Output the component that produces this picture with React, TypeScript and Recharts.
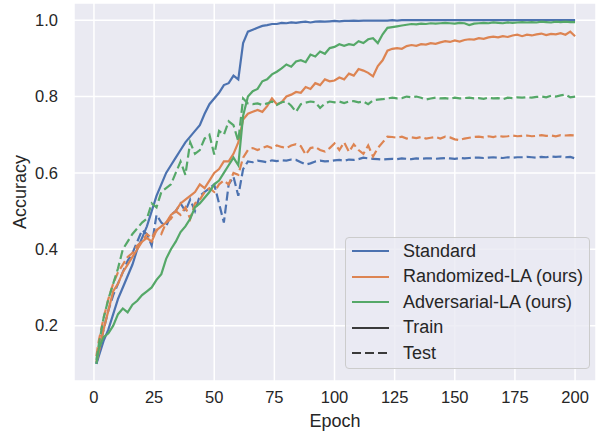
import React from "react";
import { LineChart, Line, XAxis, YAxis, CartesianGrid } from "recharts";

const epochs = [
  1, 2, 4, 6, 8, 10, 12, 14, 16, 18,
  20, 22, 24, 26, 28, 30, 32, 34, 36, 38,
  40, 42, 44, 46, 48, 50, 52, 54, 56, 58,
  60, 62, 64, 66, 68, 70, 72, 74, 76, 78,
  80, 82, 84, 86, 88, 90, 92, 94, 96, 98,
  100, 102, 104, 106, 108, 110, 112, 114, 116, 118,
  120, 122, 124, 126, 128, 130, 132, 134, 136, 138,
  140, 142, 144, 146, 148, 150, 152, 154, 156, 158,
  160, 162, 164, 166, 168, 170, 172, 174, 176, 178,
  180, 182, 184, 186, 188, 190, 192, 194, 196, 198,
  200,
];

const standardTrain = [
  0.10, 0.12, 0.16, 0.19, 0.23, 0.27, 0.30, 0.33, 0.36, 0.40,
  0.43, 0.46, 0.50, 0.54, 0.57, 0.60, 0.62, 0.64, 0.66, 0.68,
  0.695, 0.71, 0.725, 0.755, 0.78, 0.795, 0.81, 0.83, 0.835, 0.855,
  0.845, 0.94, 0.97, 0.975, 0.98, 0.985, 0.987, 0.99, 0.99, 0.993,
  0.992, 0.994, 0.993, 0.995, 0.996, 0.994, 0.996, 0.997, 0.996, 0.997,
  0.998, 0.997, 0.998, 0.998, 0.999, 0.998, 0.999, 0.999, 0.999, 0.999,
  0.999, 0.999, 1.0, 0.999, 1.0, 1.0, 1.0, 1.0, 1.0, 1.0,
  1.0, 1.0, 1.0, 1.0, 1.0, 1.0, 1.0, 1.0, 1.0, 1.0,
  1.0, 1.0, 1.0, 1.0, 1.0, 1.0, 1.0, 1.0, 1.0, 1.0,
  1.0, 1.0, 1.0, 1.0, 1.0, 1.0, 1.0, 1.0, 1.0, 1.0,
  1.0,
];

const standardTest = [
  0.10, 0.13, 0.19, 0.24, 0.28, 0.31, 0.34, 0.37, 0.39, 0.42,
  0.45, 0.44, 0.41, 0.49, 0.47, 0.46, 0.49, 0.50, 0.52, 0.50,
  0.53, 0.50, 0.54, 0.55, 0.56, 0.57, 0.52, 0.47, 0.57, 0.59,
  0.54, 0.61, 0.63, 0.628, 0.632, 0.63, 0.628, 0.633, 0.631, 0.633,
  0.632, 0.635, 0.634, 0.628, 0.622, 0.625, 0.63, 0.632, 0.63, 0.631,
  0.633, 0.634, 0.632, 0.635, 0.634, 0.636, 0.64, 0.638, 0.637, 0.636,
  0.635, 0.636, 0.637, 0.636, 0.638, 0.637, 0.636, 0.638, 0.637, 0.638,
  0.638, 0.637, 0.638, 0.639, 0.638, 0.637, 0.639, 0.638, 0.639, 0.64,
  0.64, 0.639, 0.64, 0.641, 0.64, 0.639, 0.641, 0.64, 0.641, 0.641,
  0.642, 0.641, 0.64, 0.642, 0.641, 0.643, 0.642, 0.643, 0.641, 0.642,
  0.638,
];

const randomizedTrain = [
  0.105, 0.13, 0.19, 0.24, 0.29, 0.31, 0.34, 0.36, 0.38, 0.40,
  0.42, 0.43, 0.42, 0.45, 0.46, 0.47, 0.49, 0.50, 0.52, 0.53,
  0.54, 0.55, 0.57, 0.56, 0.58, 0.60, 0.61, 0.63, 0.63, 0.65,
  0.68, 0.74, 0.755, 0.76, 0.765, 0.76, 0.775, 0.795, 0.78, 0.785,
  0.80, 0.805, 0.812, 0.81, 0.825, 0.82, 0.835, 0.83, 0.845, 0.84,
  0.842, 0.85, 0.845, 0.86, 0.855, 0.872, 0.868, 0.862, 0.853, 0.88,
  0.895, 0.92, 0.925, 0.927, 0.925, 0.932, 0.935, 0.933, 0.937, 0.936,
  0.94, 0.938, 0.942, 0.945, 0.943, 0.947, 0.944, 0.948, 0.95, 0.949,
  0.953, 0.951, 0.955, 0.957, 0.955, 0.958, 0.956, 0.96, 0.962, 0.958,
  0.962, 0.96, 0.963, 0.965, 0.961, 0.964, 0.963, 0.966, 0.962, 0.97,
  0.958,
];

const randomizedTest = [
  0.12, 0.16, 0.22, 0.27, 0.31, 0.34, 0.36, 0.38, 0.39, 0.41,
  0.42, 0.44, 0.43, 0.45, 0.44, 0.47, 0.48, 0.50, 0.49, 0.51,
  0.48, 0.52, 0.53, 0.55, 0.56, 0.55, 0.57, 0.58, 0.57, 0.60,
  0.595, 0.64, 0.66, 0.665, 0.66, 0.665, 0.67, 0.665, 0.672, 0.668,
  0.665, 0.672, 0.675, 0.67, 0.648, 0.665, 0.668, 0.66, 0.656, 0.665,
  0.677, 0.66, 0.68, 0.655, 0.675, 0.66, 0.65, 0.672, 0.643, 0.665,
  0.68, 0.695, 0.694, 0.692, 0.695, 0.69, 0.693, 0.691, 0.694, 0.69,
  0.692, 0.694, 0.69, 0.695, 0.693, 0.688, 0.686, 0.69, 0.692, 0.694,
  0.695, 0.693, 0.696, 0.694, 0.697, 0.695, 0.696, 0.698, 0.696, 0.697,
  0.698, 0.696, 0.697, 0.699, 0.697, 0.698, 0.696, 0.699, 0.698, 0.699,
  0.698,
];

const adversarialTrain = [
  0.10, 0.14, 0.17, 0.18, 0.20, 0.23, 0.245, 0.235, 0.255, 0.265,
  0.28, 0.29, 0.30, 0.32, 0.335, 0.375, 0.40, 0.42, 0.445, 0.46,
  0.48, 0.51, 0.52, 0.535, 0.55, 0.57, 0.58, 0.60, 0.62, 0.64,
  0.62, 0.75, 0.80, 0.814, 0.82, 0.84, 0.845, 0.858, 0.865, 0.874,
  0.884, 0.878, 0.892, 0.895, 0.89, 0.91, 0.905, 0.918, 0.912, 0.927,
  0.93, 0.937, 0.933, 0.937, 0.935, 0.945, 0.94, 0.95, 0.953, 0.94,
  0.963, 0.98, 0.982, 0.984, 0.986, 0.988, 0.99, 0.989, 0.991, 0.99,
  0.992, 0.991, 0.992, 0.993, 0.992, 0.991, 0.993, 0.992, 0.987, 0.991,
  0.992, 0.993, 0.992, 0.994, 0.993, 0.992, 0.994, 0.993, 0.994, 0.995,
  0.994, 0.995, 0.994, 0.996, 0.995, 0.994, 0.996, 0.995, 0.996, 0.995,
  0.995,
];

const adversarialTest = [
  0.11, 0.15, 0.22, 0.27, 0.31, 0.35, 0.40, 0.42, 0.44, 0.455,
  0.47, 0.48, 0.52, 0.51, 0.55, 0.56, 0.57, 0.60, 0.63, 0.595,
  0.68, 0.65, 0.66, 0.69, 0.70, 0.648, 0.71, 0.70, 0.735, 0.725,
  0.683, 0.795, 0.782, 0.78, 0.782, 0.778, 0.782, 0.787, 0.778, 0.785,
  0.787, 0.776, 0.76, 0.78, 0.784, 0.787, 0.785, 0.77, 0.782, 0.787,
  0.785, 0.787, 0.783, 0.787, 0.788, 0.785, 0.787, 0.78, 0.79, 0.792,
  0.793, 0.795, 0.797, 0.795, 0.796, 0.80, 0.798, 0.80, 0.797, 0.792,
  0.795, 0.797, 0.795, 0.796, 0.794, 0.797, 0.795, 0.796, 0.797, 0.795,
  0.796, 0.794, 0.797, 0.795, 0.796, 0.793, 0.797, 0.796, 0.798, 0.797,
  0.798, 0.797, 0.799, 0.80, 0.798, 0.802, 0.80, 0.803, 0.805, 0.798,
  0.80,
];

const xTicks = [0, 25, 50, 75, 100, 125, 150, 175, 200];
const yTicks = [0.2, 0.4, 0.6, 0.8, 1.0];

const BLUE = "#4C72B0";
const ORANGE = "#DD8452";
const GREEN = "#55A868";
const TEXT = "#262626";
const FONT = '"Liberation Sans", Arial, sans-serif';
const DASH = "9 4";

const data = epochs.map((epoch, i) => ({
  epoch,
  stdTrain: standardTrain[i],
  stdTest: standardTest[i],
  rndTrain: randomizedTrain[i],
  rndTest: randomizedTest[i],
  advTrain: adversarialTrain[i],
  advTest: adversarialTest[i],
}));

const legendItems = [
  { label: "Standard", color: BLUE, dashed: false },
  { label: "Randomized-LA (ours)", color: ORANGE, dashed: false },
  { label: "Adversarial-LA (ours)", color: GREEN, dashed: false },
  { label: "Train", color: "#3a3a3a", dashed: false },
  { label: "Test", color: "#3a3a3a", dashed: true },
];

function ChartLegend() {
  return (
    <div
      style={{
        position: "absolute",
        left: 345,
        top: 237,
        width: 245,
        height: 132,
        boxSizing: "border-box",
        background: "rgba(234,234,242,0.8)",
        border: "1px solid #cccccc",
        borderRadius: 4,
        fontFamily: FONT,
        fontSize: 18,
        color: TEXT,
      }}
    >
      {legendItems.map((item, i) => (
        <div
          key={item.label}
          style={{
            position: "absolute",
            left: 6,
            top: 13 + i * 25.6 - 12,
            height: 24,
            display: "flex",
            alignItems: "center",
            whiteSpace: "nowrap",
          }}
        >
          <svg width={38} height={10} style={{ marginRight: 13 }}>
            <line
              x1={0}
              y1={5}
              x2={37}
              y2={5}
              stroke={item.color}
              strokeWidth={2.2}
              strokeDasharray={item.dashed ? DASH : undefined}
            />
          </svg>
          <span>{item.label}</span>
        </div>
      ))}
    </div>
  );
}

export default function App() {
  const tickStyle = { fill: TEXT, fontSize: 16.5, fontFamily: FONT };
  return (
    <div style={{ position: "absolute", left: 0, top: 0, width: 596, height: 432, background: "#fff" }}>
      <LineChart width={596} height={432} data={data} margin={{ top: 3, right: 0, bottom: 0, left: 0 }}>
        <CartesianGrid fill="#EAEAF2" stroke="#ffffff" strokeWidth={1.5} />
        <XAxis
          dataKey="epoch"
          type="number"
          domain={[-8.3, 208.7]}
          ticks={xTicks}
          allowDataOverflow
          axisLine={false}
          tickLine={false}
          tickSize={0}
          tickMargin={10}
          height={51}
          tick={tickStyle}
          label={{ value: "Epoch", position: "insideBottom", offset: 5, style: { fill: TEXT, fontSize: 18, fontFamily: FONT } }}
        />
        <YAxis
          type="number"
          domain={[0.055, 1.045]}
          ticks={yTicks}
          allowDataOverflow
          axisLine={false}
          tickLine={false}
          tickSize={0}
          tickMargin={16}
          width={74}
          tick={tickStyle}
          tickFormatter={(v: number) => v.toFixed(1)}
          label={{ value: "Accuracy", angle: -90, position: "insideLeft", offset: 20, style: { fill: TEXT, fontSize: 18, fontFamily: FONT, textAnchor: "middle" } }}
        />
        <Line dataKey="stdTrain" stroke={BLUE} strokeWidth={2.2} dot={false} isAnimationActive={false} />
        <Line dataKey="stdTest" stroke={BLUE} strokeWidth={2.2} strokeDasharray={DASH} dot={false} isAnimationActive={false} />
        <Line dataKey="rndTrain" stroke={ORANGE} strokeWidth={2.2} dot={false} isAnimationActive={false} />
        <Line dataKey="rndTest" stroke={ORANGE} strokeWidth={2.2} strokeDasharray={DASH} dot={false} isAnimationActive={false} />
        <Line dataKey="advTrain" stroke={GREEN} strokeWidth={2.2} dot={false} isAnimationActive={false} />
        <Line dataKey="advTest" stroke={GREEN} strokeWidth={2.2} strokeDasharray={DASH} dot={false} isAnimationActive={false} />
      </LineChart>
      <ChartLegend />
    </div>
  );
}
